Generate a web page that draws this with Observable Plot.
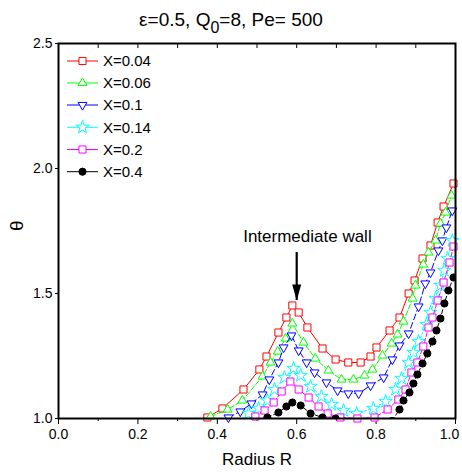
<!DOCTYPE html>
<html><head><meta charset="utf-8">
<script src="https://cdn.jsdelivr.net/npm/d3@7"></script>
<script src="https://cdn.jsdelivr.net/npm/@observablehq/plot@0.6"></script>
<style>
body{margin:0;background:#fff;}
#wrap{position:relative;width:462px;height:476px;font-family:"Liberation Sans",Arial,sans-serif;}
#title{position:absolute;left:0;top:10px;width:462px;text-align:center;font-size:19px;line-height:19px;z-index:2;}
#title .sub{font-size:16px;position:relative;top:7px;}
#legend{position:absolute;left:0;top:0;z-index:3;}
</style></head><body>
<div id="wrap"><div id="title">ε=0.5, Q<span class="sub">0</span>=8, Pe= 500</div></div>
<script>
// ---- data ----
const seriesNames = ["X=0.04","X=0.06","X=0.1","X=0.14","X=0.2","X=0.4"];

const r004 = [0.375,0.413,0.466,0.506,0.524,0.554,0.574,0.589,0.605,0.627,0.665,0.698,0.730,0.761,0.786,0.801,0.834,0.859,0.882,0.897,0.917,0.937,0.955,0.970,0.995];
const t004 = [1.004,1.04,1.116,1.196,1.248,1.344,1.404,1.452,1.424,1.364,1.28,1.236,1.224,1.224,1.248,1.284,1.352,1.404,1.50,1.552,1.64,1.692,1.784,1.848,1.94];

const r006 = [0.383,0.426,0.463,0.514,0.534,0.552,0.572,0.589,0.617,0.647,0.680,0.713,0.743,0.771,0.791,0.816,0.839,0.854,0.869,0.892,0.899,0.919,0.932,0.950,0.962,0.975,0.990];
const t006 = [1.008,1.036,1.072,1.168,1.224,1.268,1.32,1.38,1.304,1.24,1.192,1.156,1.156,1.172,1.196,1.252,1.30,1.336,1.388,1.48,1.532,1.616,1.664,1.712,1.78,1.824,1.892];

const r010 = [0.428,0.458,0.486,0.514,0.531,0.554,0.567,0.587,0.605,0.625,0.645,0.675,0.703,0.730,0.756,0.786,0.819,0.841,0.859,0.882,0.907,0.924,0.937,0.957,0.967,0.977,0.992];
const t010 = [1.004,1.028,1.06,1.096,1.156,1.224,1.284,1.332,1.272,1.224,1.184,1.144,1.112,1.10,1.10,1.132,1.164,1.236,1.292,1.34,1.448,1.54,1.584,1.672,1.712,1.764,1.832];

const r014 = [0.479,0.504,0.526,0.544,0.569,0.592,0.610,0.635,0.662,0.688,0.718,0.751,0.793,0.824,0.849,0.864,0.882,0.894,0.907,0.927,0.937,0.950,0.962,0.972,0.980,0.992];
const t014 = [1.02,1.04,1.072,1.116,1.164,1.20,1.172,1.128,1.088,1.056,1.032,1.02,1.04,1.068,1.116,1.16,1.224,1.264,1.308,1.376,1.424,1.48,1.532,1.592,1.64,1.712];

const r02 = [0.496,0.519,0.542,0.562,0.584,0.605,0.630,0.655,0.678,0.710,0.753,0.796,0.829,0.856,0.874,0.889,0.904,0.919,0.932,0.942,0.955,0.970,0.985,0.995];
const t02 = [1.008,1.032,1.064,1.108,1.148,1.116,1.084,1.048,1.02,1.004,1.0,1.004,1.036,1.076,1.116,1.184,1.224,1.288,1.364,1.404,1.472,1.544,1.624,1.688];

const r04 = [0.526,0.554,0.574,0.589,0.610,0.635,0.665,0.698,0.84,0.859,0.869,0.884,0.894,0.904,0.917,0.929,0.942,0.952,0.962,0.972,0.982,0.995];
const t04 = [1.004,1.024,1.048,1.064,1.052,1.02,1.004,1.0,0.99,1.036,1.072,1.104,1.14,1.176,1.22,1.26,1.308,1.352,1.40,1.46,1.512,1.564];

const xMajor = [0, 0.2, 0.4, 0.6, 0.8, 1.0];
const xMinor = [0.1, 0.3, 0.5, 0.7, 0.9];
const xTop = [0.1, 0.2, 0.3, 0.4, 0.5, 0.6, 0.7, 0.8, 0.9];
const yMajor = [1.0, 1.5, 2.0, 2.5];

const annotation = [{label: "Intermediate wall", x: 0.6, yStart: 1.664, yTip: 1.472, textX: 0.627, textY: 1.728}];

// ---- styles ----
const sqrt3 = Math.sqrt(3);
const invTriangle = {draw(ctx, size) {
  const y = -Math.sqrt(size / (sqrt3 * 3));
  ctx.moveTo(0, -y * 2);
  ctx.lineTo(-sqrt3 * y, y);
  ctx.lineTo(sqrt3 * y, y);
  ctx.closePath();
}};
const arrowHead = {draw(ctx) {
  ctx.moveTo(-4.5, -16); ctx.lineTo(4.5, -16); ctx.lineTo(0, 0); ctx.closePath();
}};
const styles = [
  {color: "#ff0000", dash: null,  symbol: "square",   d3sym: d3.symbolSquare,   r: 4.0, fill: "white"},
  {color: "#00ff00", dash: "5,2", symbol: "triangle", d3sym: d3.symbolTriangle, r: 3.3, fill: "white"},
  {color: "#0000ff", dash: "6,3", symbol: invTriangle, d3sym: invTriangle,       r: 3.3, fill: "white"},
  {color: "#00ffff", dash: "2,2", symbol: "star",     d3sym: d3.symbolStar,     r: 4.2, fill: "white"},
  {color: "#ff00ff", dash: "4,2", symbol: "square",   d3sym: d3.symbolSquare,   r: 4.0, fill: "white"},
  {color: "#000000", dash: "4,3", symbol: "circle",   d3sym: d3.symbolCircle,   r: 3.6, fill: "black"}
];

const pairs = [[r004,t004],[r006,t006],[r010,t010],[r014,t014],[r02,t02],[r04,t04]];
const seriesData = pairs.map(([r,t]) => r.map((x,i) => ({R: x, T: t[i]})));

const FONT = "Liberation Sans, Arial, sans-serif";
const fmt = d3.format(".1f");
const marks = [];
seriesData.forEach((data, i) => {
  const s = styles[i];
  marks.push(Plot.line(data, {x: "R", y: "T", stroke: s.color, strokeWidth: 1, strokeDasharray: s.dash, clip: true}));
  marks.push(Plot.dot(data, {x: "R", y: "T", symbol: s.symbol, r: s.r, stroke: s.color, fill: s.fill, strokeWidth: 1, clip: i === 5}));
});

const lastX = xMajor[xMajor.length - 1];
const plot = Plot.plot({
  width: 462, height: 476,
  marginLeft: 58, marginRight: 7, marginTop: 43, marginBottom: 58,
  style: {fontFamily: FONT, fontSize: "14px", background: "white", color: "black", overflow: "visible"},
  x: {domain: [0, 1]},
  y: {domain: [1, 2.5]},
  marks: [
    Plot.axisX({ticks: xMajor, tickSize: 6, tickPadding: 5, tickFormat: d => d === lastX ? "" : fmt(d), label: null, fontSize: 14}),
    Plot.axisX({ticks: [lastX], tickSize: 0, tickPadding: 11, dx: -6, tickFormat: fmt, label: null, fontSize: 14}),
    Plot.axisX({ticks: xMinor, tickSize: 3, tickFormat: () => "", label: null}),
    Plot.ruleX(xTop, {x: d => d, insetBottom: 370, stroke: "black", strokeWidth: 1}),
    Plot.axisY({ticks: yMajor, tickSize: 3, tickPadding: 3, tickFormat: fmt, label: null, fontSize: 14}),
    ...marks,
    Plot.ruleX(annotation, {x: "x", y1: "yStart", y2: "yTip", strokeWidth: 2.2, stroke: "black"}),
    Plot.dot(annotation, {x: "x", y: "yTip", symbol: arrowHead, fill: "black", stroke: "none"}),
    Plot.text(annotation, {x: "textX", y: "textY", text: "label", fontSize: 17}),
    Plot.text(["Radius R"], {frameAnchor: "bottom", dy: 46, text: d => d, fontSize: 17}),
    Plot.text(["θ"], {frameAnchor: "left", dx: -42, rotate: -90, text: d => d, fontSize: 19}),
    Plot.frame({strokeWidth: 2, stroke: "black"})
  ]
});
document.getElementById("wrap").appendChild(plot);

// ---- legend overlay ----
const leg = d3.select("#wrap").append("svg").attr("id", "legend").attr("width", 462).attr("height", 476);
const rowY = [61, 83, 105, 127.3, 149.5, 171.7];
seriesNames.forEach((name, i) => {
  const s = styles[i];
  const g = leg.append("g").attr("transform", `translate(0,${rowY[i]})`);
  g.append("line").attr("x1", 67).attr("x2", 98).attr("y1", 0).attr("y2", 0).attr("stroke", s.color).attr("stroke-width", 1);
  g.append("path").attr("transform", "translate(82.5,0)")
    .attr("d", d3.symbol().type(s.d3sym).size(Math.PI * s.r * s.r)())
    .attr("stroke", s.color).attr("fill", s.fill).attr("stroke-width", 1);
  g.append("text").attr("x", 103).attr("y", 0).attr("dy", "0.35em")
    .attr("font-family", FONT).attr("font-size", 15).text(name);
});
</script>
</body></html>
